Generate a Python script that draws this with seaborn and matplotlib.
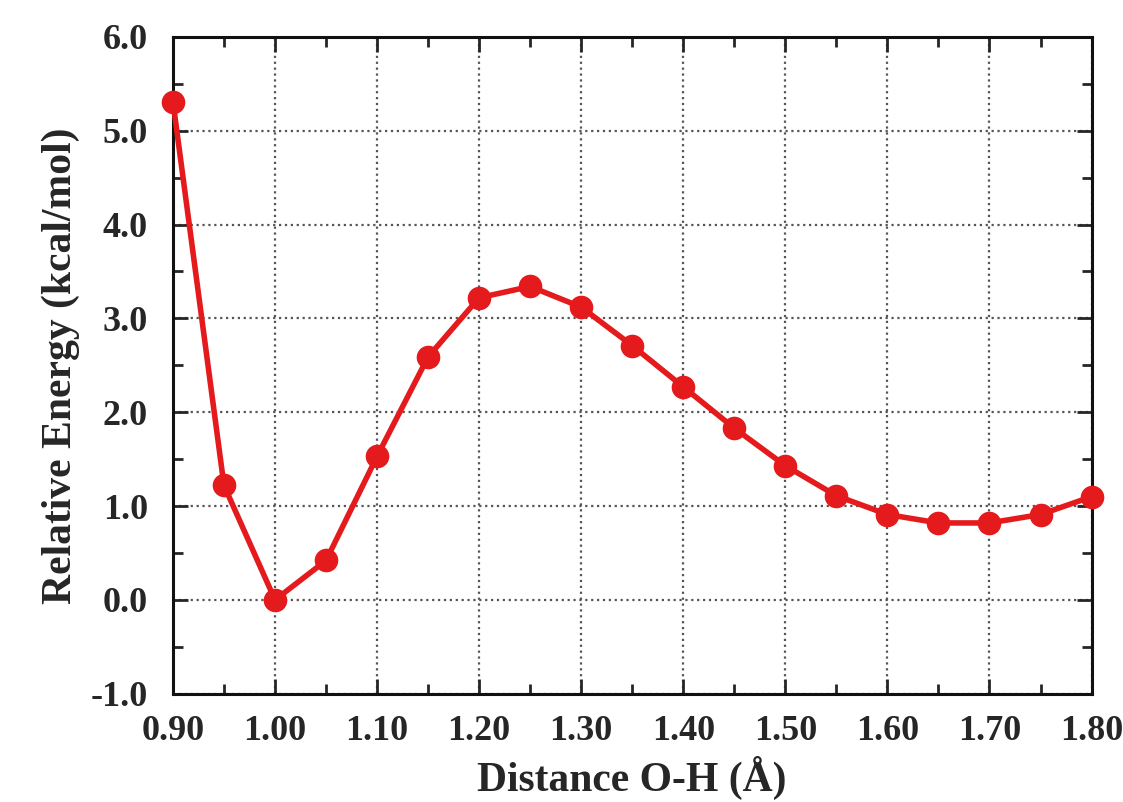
import matplotlib
matplotlib.use('Agg')
import matplotlib.pyplot as plt
import pandas as pd
import seaborn as sns
from matplotlib.ticker import MultipleLocator

# dados
distance = [0.90, 0.95, 1.00, 1.05, 1.10, 1.15, 1.20, 1.25, 1.30, 1.35,
            1.40, 1.45, 1.50, 1.55, 1.60, 1.65, 1.70, 1.75, 1.80]
energy = [5.31, 1.22, 0.0, 0.42, 1.53, 2.59, 3.22, 3.34, 3.12, 2.71,
          2.27, 1.83, 1.43, 1.11, 0.91, 0.82, 0.82, 0.91, 1.10]

df = pd.DataFrame({'dist': distance, 'energy': energy})

sns.set_style('ticks')
plt.rcParams['font.family'] = ['Liberation Serif', 'DejaVu Serif']
plt.rcParams['font.weight'] = 'bold'

fig = plt.figure(figsize=(11.23, 8.02), dpi=100)
ax = fig.add_axes([0.154, 0.135, 0.818, 0.819])

sns.lineplot(data=df, x='dist', y='energy', ax=ax, color='#e41a1c',
             linewidth=4, marker='o', markersize=17, markeredgewidth=0,
             clip_on=False, zorder=5)

ax.set_xlim(0.90, 1.80)
ax.set_ylim(-1.0, 6.0)
ax.xaxis.set_major_locator(MultipleLocator(0.10))
ax.xaxis.set_minor_locator(MultipleLocator(0.05))
ax.yaxis.set_major_locator(MultipleLocator(1.0))
ax.yaxis.set_minor_locator(MultipleLocator(0.5))
ax.set_xticklabels([f'{v:.2f}' for v in ax.get_xticks()])
ax.set_yticklabels([f'{v:.1f}' for v in ax.get_yticks()])

# grade pontilhada so nos ticks principais
ax.grid(True, which='major', linestyle=':', color='#555555', linewidth=1.6)
ax.tick_params(which='both', direction='in', top=True, right=True,
               width=2, labelsize=26)
ax.tick_params(axis='x', pad=15)
ax.tick_params(axis='y', pad=18)
ax.tick_params(which='major', length=11)
ax.tick_params(which='minor', length=7)
for s in ax.spines.values():
    s.set_linewidth(2.2)
    s.set_color('#111111')

ax.set_xlabel('Distance O-H (Å)', fontsize=30, fontweight='bold', labelpad=6)
ax.set_ylabel('Relative Energy (kcal/mol)', fontsize=30, fontweight='bold', labelpad=8)

plt.savefig('out.png', dpi=100)
